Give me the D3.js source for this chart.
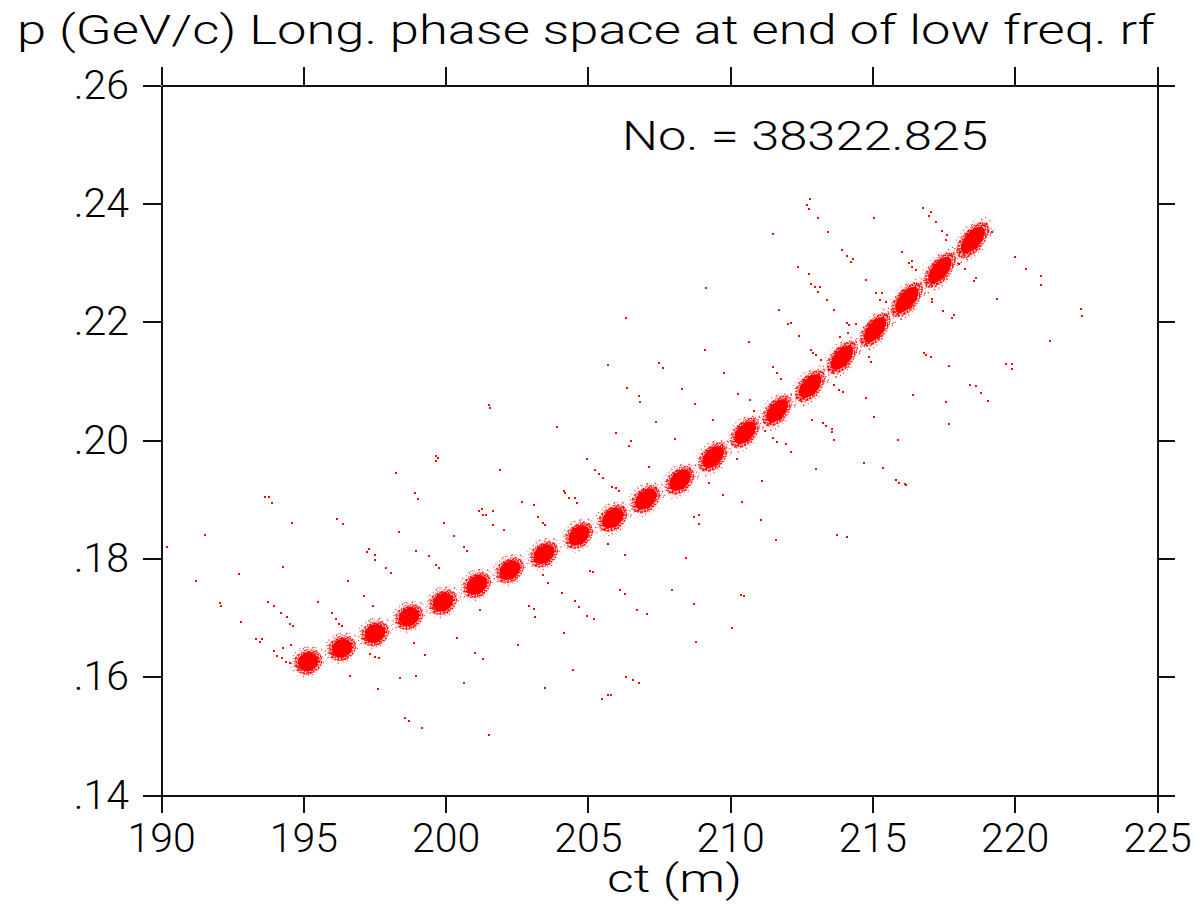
<!DOCTYPE html>
<meta charset="utf-8">
<style>
body { margin: 0; background: #fff; }
text { font-family: Roboto, "Liberation Sans", sans-serif; font-weight: 300; fill: #000; }
.axis path, .axis line { stroke: #111; stroke-width: 2px; shape-rendering: crispEdges; }
.axis text { font-size: 41px; font-family: Roboto, "Liberation Sans", sans-serif; font-weight: 300; }
.halo { fill: #ff0000; shape-rendering: crispEdges; }
.bunch { fill: #ff0000; }
</style>
<svg width="1197" height="907"></svg>
<script src="https://d3js.org/d3.v7.min.js"></script>
<script>

// bunch centres: ct (m), p (GeV/c)
var bunchCt = [195.17, 196.36, 197.52, 198.72, 199.91, 201.10, 202.26, 203.46, 204.69, 205.88,
               207.04, 208.24, 209.40, 210.52, 211.65, 212.81, 213.93, 215.09, 216.21, 217.37, 218.53];
var bunchP  = [.1625, .1648, .1673, .1701, .1726, .1755, .1780, .1807, .1839, .1868,
               .1900, .1932, .1971, .2012, .2049, .2091, .2139, .2186, .2237, .2287, .2338];
// rms spreads and ct-p correlation of each bunch
var bunchSigCt = [.24, .24, .24, .24, .24, .24, .24, .24, .24, .25, .25,
                  .25, .25, .25, .25, .26, .26, .26, .27, .27, .28];
var bunchSigP = [.00105, .00105, .00105, .00106, .00106, .00108, .00108, .00110, .00112, .00114, .00116,
                 .00118, .00122, .00126, .00128, .00132, .00136, .00140, .00144, .00147, .00150];
var bunchRho = [.12, .15, .18, .2, .22, .25, .28, .3, .32, .35, .38,
                .4, .45, .48, .5, .52, .55, .58, .6, .6, .6];

// particles outside the bunches
var haloPoints = [
  [201.53,.2059],[201.56,.2054],[199.66,.1973],[199.73,.1970],[199.66,.1964],[198.26,.1944],
  [209.15,.2257],[206.34,.2206],[210.66,.2166],[209.12,.2152],[205.71,.2127],[207.50,.2130],
  [207.64,.2122],[209.79,.2113],[206.38,.2088],[208.31,.2086],
  [202.55,.1654],[208.80,.1659],[201.32,.1630],[204.48,.1611],[203.50,.1581],[206.34,.1599],
  [206.59,.1594],[206.80,.1589],[205.50,.1562],[205.71,.1569],[205.81,.1569],[201.53,.1501],
  [215.83,.1932],[215.94,.1927],[216.15,.1926],[216.18,.1924],[213.76,.1839],[214.11,.1836],
  [190.21,.1819],[191.55,.1839],[191.23,.1762],[192.74,.1774],[192.07,.1724],[192.11,.1719],
  [192.81,.1692],[193.65,.1904],[193.80,.1904],[193.90,.1894],[194.60,.1860],[194.29,.1785],
  [193.76,.1726],[193.97,.1719],[194.22,.1708],[194.43,.1701],[194.53,.1689],[194.64,.1686],
  [193.34,.1664],[193.48,.1659],[193.55,.1664],[193.97,.1643],[194.08,.1635],[194.25,.1632],
  [194.29,.1648],[194.39,.1625],[194.53,.1623],[194.57,.1654],[196.19,.1866],[196.40,.1858],
  [195.52,.1726],[196.01,.1708],[196.15,.1697],[196.26,.1689],[196.36,.1686],[196.57,.1762],
  [196.64,.1601],[197.13,.1736],[197.24,.1811],[197.31,.1816],[197.52,.1806],[197.52,.1797],
  [197.91,.1784],[198.08,.1775],[197.45,.1719],[197.63,.1579],[197.34,.1638],[197.52,.1633],
  [197.66,.1632],[198.36,.1844],[198.93,.1910],[199.03,.1900],[198.96,.1812],[199.42,.1804],
  [198.40,.1598],[198.96,.1601],[198.57,.1530],[198.72,.1525],[199.17,.1513],[199.28,.1637],
  [198.89,.1657],[199.95,.1860],[200.30,.1838],[200.65,.1819],[200.75,.1812],[199.66,.1789],
  [199.77,.1784],[200.40,.1665],[200.65,.1589],[201.03,.1640],[201.18,.1880],[201.28,.1883],
  [201.42,.1873],[201.67,.1880],[201.67,.1856],[201.21,.1713],[201.32,.1873],
  [201.91,.1949],[202.69,.1895],[203.11,.1890],[203.92,.2022],[203.25,.1870],[203.42,.1860],
  [203.50,.1856],[202.05,.1848],[204.16,.1914],[204.20,.1910],[204.34,.1902],[204.55,.1902],
  [204.62,.1894],[204.97,.1968],[205.25,.1949],[205.39,.1943],[205.53,.1936],[205.85,.1921],
  [205.99,.1919],[206.10,.1914],[206.80,.2074],[206.83,.2064],[207.40,.2030],[205.99,.2012],
  [206.45,.1990],[206.52,.1998],[207.15,.1954],[208.77,.2061],[208.06,.2002],[209.40,.2034],
  [210.28,.2078],[210.70,.2068],[210.84,.2049],[212.88,.2034],[213.26,.2029],[213.37,.2024],
  [212.14,.1980],[211.96,.1993],[211.65,.1997],[213.02,.1951],[211.12,.1931],[209.75,.1907],
  [210.42,.1895],[210.24,.1968],[209.26,.1927],[211.09,.1865],[211.61,.1831],[208.73,.1870],
  [208.91,.1873],[208.91,.1858],[208.45,.1801],[207.96,.1746],[208.73,.1723],[210.07,.1682],
  [210.38,.1738],[210.49,.1736],[205.71,.1824],[206.31,.1806],[206.13,.1746],[206.31,.1740],
  [206.73,.1713],[207.08,.1706],[205.08,.1779],[205.18,.1777],[204.09,.1741],[204.55,.1728],
  [204.69,.1718],[204.97,.1703],[205.22,.1697],[204.16,.1674],[203.60,.1758],[202.93,.1719],
  [203.11,.1714],[203.14,.1701],[203.42,.1772],
  [212.81,.2407],[212.70,.2397],[212.77,.2390],[213.09,.2375],[211.51,.2348],[213.44,.2352],
  [215.06,.2375],[213.93,.2321],[214.11,.2311],[214.32,.2306],[214.25,.2301],[212.39,.2292],
  [212.77,.2281],[212.84,.2264],[212.98,.2259],[213.16,.2259],[213.09,.2250],[213.41,.2237],
  [213.65,.2220],[211.72,.2220],[212.03,.2196],[212.14,.2198],[212.42,.2176],[214.78,.2270],
  [216.78,.2392],[217.06,.2385],[216.99,.2379],[217.24,.2368],[217.45,.2353],[217.62,.2346],
  [217.59,.2338],[216.04,.2318],[216.39,.2303],[216.29,.2299],[216.39,.2292],[216.53,.2287],
  [215.13,.2248],[215.34,.2248],[215.27,.2237],[215.48,.2233],[214.11,.2198],[214.18,.2194],
  [214.42,.2196],[214.14,.2181],[212.84,.2152],[212.91,.2147],[213.02,.2144],[213.86,.2174],
  [213.19,.2135],[214.88,.2140],[214.95,.2132],[217.10,.2238],[217.10,.2233],[217.48,.2218],
  [217.80,.2206],[217.87,.2211],[218.25,.2289],[218.04,.2297],[218.57,.2269],[218.64,.2274],
  [219.20,.2352],[220.01,.2309],[220.40,.2289],[220.93,.2277],[220.93,.2262],[219.38,.2238],
  [222.33,.2221],[222.37,.2210],[221.24,.2167],[216.81,.2147],[216.88,.2144],[217.06,.2140],
  [217.69,.2125],[219.70,.2128],[219.91,.2128],[219.91,.2120],[216.43,.2076],[218.43,.2093],
  [218.64,.2091],[218.82,.2079],[219.06,.2066],[217.59,.2064],[217.69,.2027],[214.78,.2071],
  [215.06,.2039],[213.65,.2093],[213.83,.2084],[213.97,.2081],[213.58,.2019],[213.58,.2014],
  [213.65,.2000],[215.90,.2000],[214.71,.1961],[215.37,.1953],[211.51,.2003],[211.23,.2015],
  [211.51,.2123],[211.65,.2113],[211.79,.2103]
];

var xTicks = [190, 195, 200, 205, 210, 215, 220, 225];
var yTicks = [.14, .16, .18, .20, .22, .24, .26];
var titleText = "p (GeV/c)  Long. phase space at end of low freq. rf";
var xLabel = "ct  (m)";
var countLabel = "No. = 38322.825";

var svg = d3.select("svg"),
    margin = {top: 85, right: 40, bottom: 112, left: 161},
    width = +svg.attr("width") - margin.left - margin.right,
    height = +svg.attr("height") - margin.top - margin.bottom;

var x = d3.scaleLinear().domain([190, 225]).range([0, width]),
    y = d3.scaleLinear().domain([.14, .26]).range([height, 0]);

var fmtY = function(d) { return d3.format(".2f")(d).replace(/^0/, ""); };

// speckle filters for the bunch edges
var defs = svg.append("defs");
function speckle(id, cut) {
  var f = defs.append("filter").attr("id", id)
      .attr("x", "-20%").attr("y", "-20%").attr("width", "140%").attr("height", "140%");
  f.append("feTurbulence").attr("type", "fractalNoise").attr("baseFrequency", 0.75)
      .attr("numOctaves", 1).attr("seed", 7).attr("result", "n");
  f.append("feColorMatrix").attr("in", "n").attr("type", "matrix")
      .attr("values", "0 0 0 0 1  0 0 0 0 0  0 0 0 0 0  14 0 0 0 " + (-14 * cut))
      .attr("result", "m");
  f.append("feComposite").attr("in", "m").attr("in2", "SourceGraphic").attr("operator", "in");
}
speckle("dense", 0.44);
speckle("sparse", 0.62);

var g = svg.append("g")
    .attr("transform", "translate(" + margin.left + "," + margin.top + ")");

// bunch ellipses from ct/p spreads
var bunches = bunchCt.map(function(c, i) {
  var sx = bunchSigCt[i] * (x(1) - x(0)),
      sy = bunchSigP[i] * (y(0) - y(1)),
      a = sx * sx, c2 = sy * sy, b = -bunchRho[i] * sx * sy,
      h = (a + c2) / 2, r = Math.sqrt((a - c2) * (a - c2) / 4 + b * b);
  return {
    cx: x(c), cy: y(bunchP[i]),
    s1: Math.sqrt(h + r), s2: Math.sqrt(Math.max(h - r, 0.5)),
    ang: 0.5 * Math.atan2(2 * b, a - c2) * 180 / Math.PI
  };
});

var layers = [{k: 2.65, f: "url(#sparse)"}, {k: 2.05, f: "url(#dense)"}, {k: 1.5, f: null}];
layers.forEach(function(l) {
  g.append("g").selectAll("ellipse")
    .data(bunches)
    .join("ellipse")
      .attr("class", "bunch")
      .attr("transform", function(d) { return "translate(" + d.cx + "," + d.cy + ") rotate(" + d.ang + ")"; })
      .attr("rx", function(d) { return l.k * d.s1; })
      .attr("ry", function(d) { return l.k * d.s2; })
      .attr("filter", l.f);
});

g.append("g").selectAll("rect")
  .data(haloPoints)
  .join("rect")
    .attr("class", "halo")
    .attr("x", function(d) { return Math.round(x(d[0])) - 1; })
    .attr("y", function(d) { return Math.round(y(d[1])) - 1; })
    .attr("width", 2)
    .attr("height", 2);

// axes, ticks pointing outward on all four sides
g.append("g")
    .attr("class", "axis")
    .attr("transform", "translate(0," + height + ")")
    .call(d3.axisBottom(x).tickValues(xTicks).tickSize(18).tickSizeOuter(0).tickPadding(10));

g.append("g")
    .attr("class", "axis")
    .call(d3.axisTop(x).tickValues(xTicks).tickSize(18).tickSizeOuter(0).tickFormat(""));

g.append("g")
    .attr("class", "axis")
    .call(d3.axisLeft(y).tickValues(yTicks).tickSize(18).tickSizeOuter(0).tickPadding(14).tickFormat(fmtY));

g.append("g")
    .attr("class", "axis")
    .attr("transform", "translate(" + width + ",0)")
    .call(d3.axisRight(y).tickValues(yTicks).tickSize(18).tickSizeOuter(0).tickFormat(""));

g.selectAll(".axis .domain").attr("stroke", "#111");

svg.append("text")
    .attr("x", 17)
    .attr("y", 44)
    .attr("textLength", 1138)
    .attr("lengthAdjust", "spacingAndGlyphs")
    .style("font-size", "41px")
    .text(titleText);

svg.append("text")
    .attr("x", 607)
    .attr("y", 892)
    .attr("textLength", 135)
    .attr("lengthAdjust", "spacingAndGlyphs")
    .style("font-size", "38px")
    .text(xLabel);

svg.append("text")
    .attr("x", 622)
    .attr("y", 150)
    .attr("textLength", 366)
    .attr("lengthAdjust", "spacingAndGlyphs")
    .style("font-size", "41px")
    .text(countLabel);

</script>
